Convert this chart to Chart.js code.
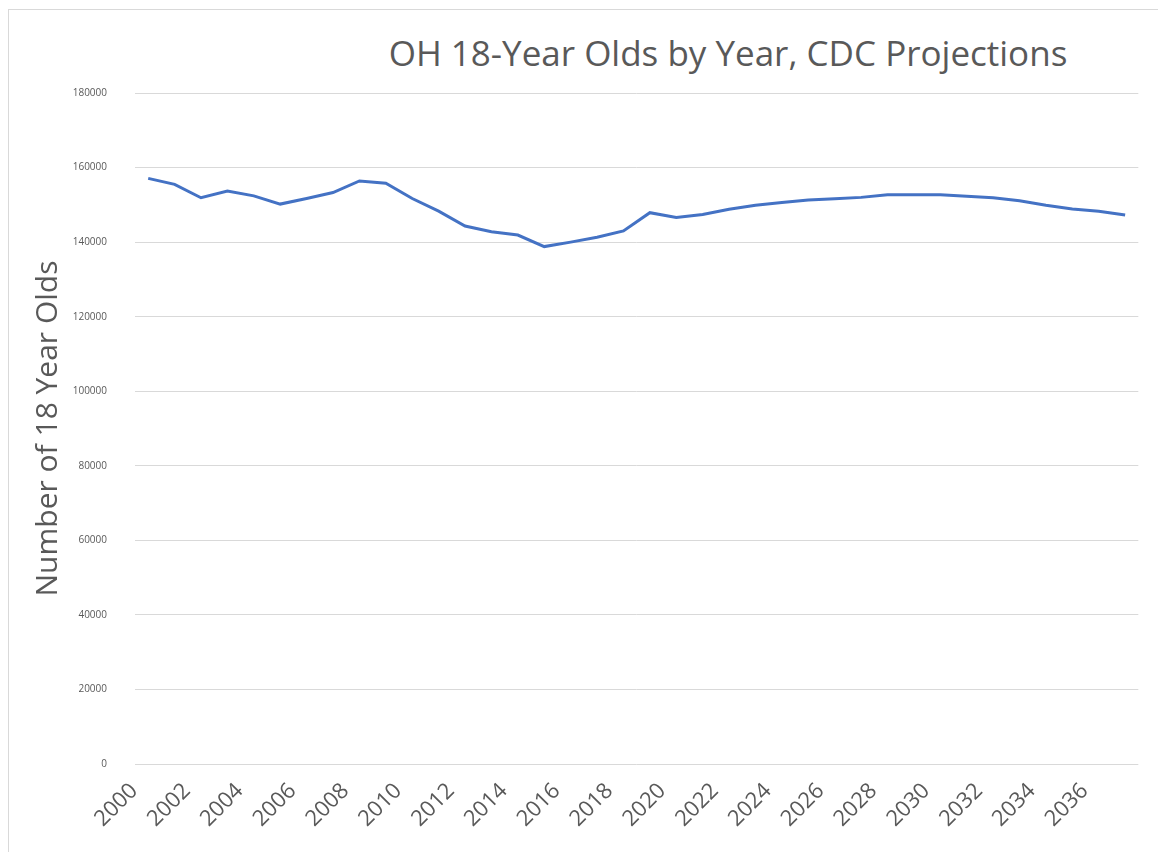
<!DOCTYPE html>
<html>
<head>
<meta charset="utf-8">
<script src="https://cdn.jsdelivr.net/npm/chart.js@4"></script>
<style>
  html, body { margin: 0; padding: 0; background: #fff; overflow: hidden; }
  body { width: 1158px; height: 852px; position: relative; }
  #frame { position: absolute; left: 8px; top: 9px; width: 1300px; height: 1000px; border: 1px solid #d9d9d9; }
  #titulo { position: absolute; left: 328px; top: 29px; width: 800px; text-align: center;
            font-family: "Open Sans", sans-serif; font-size: 35px; color: #595959; white-space: nowrap; }
  #grafico { position: absolute; left: 0; top: 0; }
</style>
</head>
<body>
<div id="frame"></div>
<div id="titulo">OH 18-Year Olds by Year, CDC Projections</div>
<canvas id="grafico" width="1158" height="852"></canvas>
<script>
// anos 2000 a 2037
const anos = ['2000','2001','2002','2003','2004','2005','2006','2007','2008','2009',
              '2010','2011','2012','2013','2014','2015','2016','2017','2018','2019',
              '2020','2021','2022','2023','2024','2025','2026','2027','2028','2029',
              '2030','2031','2032','2033','2034','2035','2036','2037'];

// número de jovens de 18 anos
const jovens18 = [157100, 155500, 151900, 153700, 152400, 150200, 151700, 153300, 156400, 155800,
                  151700, 148300, 144300, 142800, 141900, 138800, 140000, 141300, 143000, 147900,
                  146600, 147400, 148800, 149900, 150600, 151300, 151600, 152000, 152700, 152700,
                  152700, 152300, 151900, 151100, 149900, 148900, 148300, 147300];

const yMin = 0;
const yMax = 180000;
const yStep = 20000;

const ctx = document.getElementById('grafico').getContext('2d');

const myChart = new Chart(ctx, {
    type: 'line',
    data: {
        labels: anos,
        datasets: [{
            label: 'OH 18-Year Olds',
            data: jovens18,
            borderColor: '#4472c4',
            backgroundColor: '#4472c4',
            borderWidth: 3,
            pointRadius: 0,
            tension: 0,
            fill: false
        }]
    },
    options: {
        responsive: false,
        animation: false,
        layout: {
            padding: { top: 93, right: 15, bottom: 0, left: 0 }
        },
        scales: {
            x: {
                offset: true,
                afterFit: function(scale) { scale.height = 88; },
                grid: { display: false, drawTicks: false },
                border: { display: false },
                ticks: {
                    autoSkip: false,
                    minRotation: 45,
                    maxRotation: 45,
                    padding: 14,
                    labelOffset: -14,
                    color: '#595959',
                    font: { family: 'Open Sans', size: 22 },
                    // só os anos pares aparecem
                    callback: function(value, index) {
                        return index % 2 === 0 ? anos[index] : '';
                    }
                }
            },
            y: {
                min: yMin,
                max: yMax,
                afterFit: function(scale) { scale.width = 135; },
                grid: { color: '#d9d9d9', lineWidth: 1, drawTicks: false },
                border: { display: false },
                ticks: {
                    stepSize: yStep,
                    padding: 28,
                    color: '#595959',
                    font: { family: 'Open Sans', size: 10 },
                    callback: function(value) { return String(value); }
                },
                title: {
                    display: true,
                    text: 'Number of 18 Year Olds',
                    color: '#595959',
                    font: { family: 'Open Sans', size: 30 },
                    padding: { top: 30, bottom: 0 }
                }
            }
        },
        plugins: {
            legend: { display: false },
            tooltip: { enabled: false }
        }
    }
});
</script>
</body>
</html>
